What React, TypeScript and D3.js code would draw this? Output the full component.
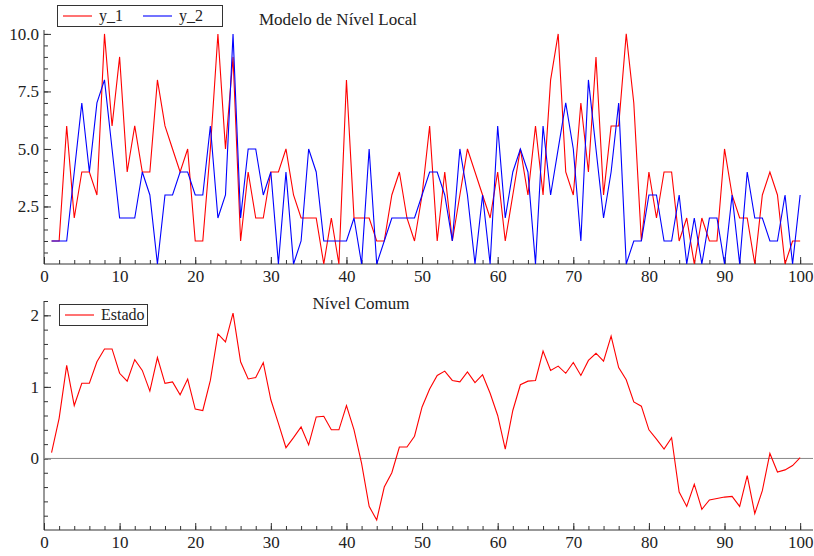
import { useRef, useEffect, FC } from 'react';
import * as d3 from 'd3';

// y_1 and y_2 (observed series), t = 1..100
const y1: number[] = [
    1, 1, 6, 2, 4, 4, 3, 10, 6, 9,
    4, 6, 4, 4, 8, 6, 5, 4, 5, 1,
    1, 5, 10, 5, 9, 1, 4, 2, 2, 4,
    4, 5, 3, 2, 2, 2, 0, 2, 0, 8,
    2, 2, 2, 1, 1, 3, 4, 2, 1, 3,
    6, 1, 4, 1, 3, 5, 4, 3, 2, 4,
    1, 3, 5, 3, 6, 3, 8, 10, 4, 3,
    7, 4, 9, 3, 6, 6, 10, 7, 1, 4,
    2, 4, 4, 1, 2, 0, 2, 1, 1, 5,
    3, 2, 2, 0, 3, 4, 3, 0, 1, 1,
];
const y2: number[] = [
    1, 1, 1, 4, 7, 4, 7, 8, 5, 2,
    2, 2, 4, 3, 0, 3, 3, 4, 4, 3,
    3, 6, 2, 3, 10, 2, 5, 5, 3, 4,
    0, 4, 0, 1, 5, 4, 1, 1, 1, 1,
    2, 0, 5, 0, 1, 2, 2, 2, 2, 3,
    4, 4, 3, 1, 5, 3, 0, 3, 0, 6,
    2, 4, 5, 4, 0, 6, 3, 5, 7, 5,
    1, 8, 5, 2, 4, 7, 0, 1, 1, 3,
    3, 1, 1, 3, 0, 2, 0, 2, 2, 0,
    3, 0, 4, 2, 2, 1, 1, 3, 0, 3,
];
// common level (Estado)
const estado: number[] = [
    0.08, 0.56, 1.30, 0.74, 1.05, 1.05, 1.35, 1.53, 1.53, 1.19,
    1.08, 1.38, 1.23, 0.94, 1.41, 1.05, 1.07, 0.89, 1.11, 0.69,
    0.67, 1.09, 1.74, 1.63, 2.03, 1.35, 1.11, 1.13, 1.34, 0.82,
    0.49, 0.15, 0.29, 0.44, 0.19, 0.58, 0.59, 0.40, 0.40, 0.74,
    0.40, -0.07, -0.67, -0.86, -0.40, -0.20, 0.16, 0.16, 0.31, 0.72,
    0.97, 1.16, 1.22, 1.09, 1.07, 1.21, 1.06, 1.17, 0.91, 0.60,
    0.13, 0.67, 1.03, 1.08, 1.09, 1.50, 1.23, 1.29, 1.19, 1.34,
    1.16, 1.37, 1.47, 1.36, 1.71, 1.27, 1.10, 0.79, 0.73, 0.40,
    0.27, 0.13, 0.29, -0.47, -0.67, -0.36, -0.71, -0.58, -0.56, -0.54,
    -0.53, -0.67, -0.24, -0.77, -0.45, 0.07, -0.19, -0.16, -0.10, 0.01,
];

const xTicks = [0, 10, 20, 30, 40, 50, 60, 70, 80, 90, 100];
const topTicks = [2.5, 5.0, 7.5, 10.0];
const bottomTicks = [0, 1, 2];

const FONT = '"Liberation Serif", "Times New Roman", serif';

const App: FC = () => {
    const svgRef = useRef<SVGSVGElement | null>(null);
    const w = 814;
    const h = 556;

    useEffect(() => {
        if (!svgRef.current) return;
        const svg = d3.select(svgRef.current);
        svg.selectAll('*').remove();

        const x = d3.scaleLinear().domain([0, 101.7]).range([44, 813]);
        const yTop = d3.scaleLinear().domain([0, 10.17]).range([264, 30]);
        const yBot = d3.scaleLinear().domain([-1, 2.2]).range([530, 301]);

        const styleAxis = (g: d3.Selection<SVGGElement, unknown, null, undefined>) => {
            g.select('.domain').remove();
            g.selectAll('line').attr('stroke', '#333').attr('stroke-width', 1);
            g.selectAll('text')
                .attr('fill', '#222')
                .style('font-family', FONT)
                .style('font-size', '17px');
        };

        // x axes (minor every 2, major every 10), ticks inside
        const drawX = (yPos: number) => {
            const minor = svg.append('g')
                .attr('transform', `translate(0,${yPos})`)
                .call(d3.axisBottom(x).tickValues(d3.range(0, 101, 2)).tickSize(-4).tickFormat(() => ''));
            styleAxis(minor);
            const major = svg.append('g')
                .attr('transform', `translate(0,${yPos})`)
                .call(d3.axisBottom(x).tickValues(xTicks).tickSize(-7).tickPadding(6).tickFormat(d3.format('d')));
            styleAxis(major);
            svg.append('line')
                .attr('x1', x(0)).attr('x2', x.range()[1])
                .attr('y1', yPos).attr('y2', yPos)
                .attr('stroke', '#333');
        };
        drawX(yTop(0));
        drawX(yBot(-1));

        // y axes
        const drawY = (
            scale: d3.ScaleLinear<number, number>,
            minorVals: number[],
            majorVals: number[],
            fmt: (d: number) => string
        ) => {
            const minor = svg.append('g')
                .attr('transform', `translate(${x(0)},0)`)
                .call(d3.axisLeft(scale).tickValues(minorVals).tickSize(-4).tickFormat(() => ''));
            styleAxis(minor);
            const major = svg.append('g')
                .attr('transform', `translate(${x(0)},0)`)
                .call(d3.axisLeft(scale).tickValues(majorVals).tickSize(-7).tickPadding(5)
                    .tickFormat(d => fmt(d as number)));
            styleAxis(major);
            svg.append('line')
                .attr('x1', x(0)).attr('x2', x(0))
                .attr('y1', scale.range()[0]).attr('y2', scale.range()[1])
                .attr('stroke', '#333');
        };
        drawY(yTop, d3.range(0.5, 10.1, 0.5), topTicks, d3.format('.1f'));
        drawY(yBot, d3.range(-0.8, 2.21, 0.2).map(v => +v.toFixed(1)), bottomTicks, d3.format('d'));

        // zero reference line in the lower panel
        svg.append('line')
            .attr('x1', x(0)).attr('x2', x.range()[1])
            .attr('y1', yBot(0)).attr('y2', yBot(0))
            .attr('stroke', '#888').attr('stroke-width', 1);

        // series
        const lineTop = d3.line<number>().x((_d, i) => x(i + 1)).y(d => yTop(d));
        const lineBot = d3.line<number>().x((_d, i) => x(i + 1)).y(d => yBot(d));

        svg.append('path').datum(y1)
            .attr('fill', 'none').attr('stroke', '#ff0000').attr('stroke-width', 1.1)
            .attr('d', lineTop);
        svg.append('path').datum(y2)
            .attr('fill', 'none').attr('stroke', '#0000ff').attr('stroke-width', 1.1)
            .attr('d', lineTop);
        svg.append('path').datum(estado)
            .attr('fill', 'none').attr('stroke', '#ff0000').attr('stroke-width', 1.1)
            .attr('d', lineBot);

        // titles
        svg.append('text')
            .attr('x', 338).attr('y', 25)
            .attr('text-anchor', 'middle')
            .style('font-family', FONT).style('font-size', '17px').attr('fill', '#222')
            .text('Modelo de Nível Local');
        svg.append('text')
            .attr('x', 361).attr('y', 309)
            .attr('text-anchor', 'middle')
            .style('font-family', FONT).style('font-size', '17px').attr('fill', '#222')
            .text('Nível Comum');

        // legends
        const legend = (lx: number, ly: number, bw: number, items: { label: string; color: string }[], step: number) => {
            const g = svg.append('g').attr('transform', `translate(${lx},${ly})`);
            g.append('rect')
                .attr('x', 0.5).attr('y', 0.5).attr('width', bw).attr('height', 21)
                .attr('fill', 'white').attr('stroke', '#333');
            items.forEach((it, i) => {
                const ox = 6 + i * step;
                g.append('line')
                    .attr('x1', ox).attr('x2', ox + 29)
                    .attr('y1', 11).attr('y2', 11)
                    .attr('stroke', it.color).attr('stroke-width', 1.1);
                g.append('text')
                    .attr('x', ox + 36).attr('y', 16)
                    .style('font-family', FONT).style('font-size', '16px').attr('fill', '#222')
                    .text(it.label);
            });
        };
        legend(57, 5, 165, [{ label: 'y_1', color: '#ff0000' }, { label: 'y_2', color: '#0000ff' }], 80);
        legend(59, 304, 88, [{ label: 'Estado', color: '#ff0000' }], 0);
    }, []);

    return (
        <svg
            ref={svgRef}
            width={w}
            height={h}
            style={{ position: 'absolute', left: 0, top: 0, background: 'white' }}
        />
    );
};

export default App;
